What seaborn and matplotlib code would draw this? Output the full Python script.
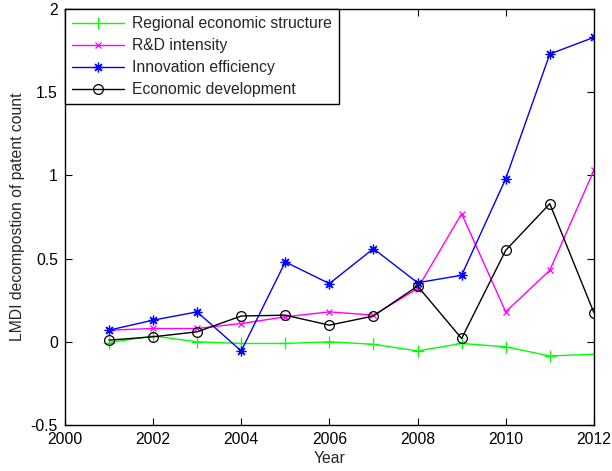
import matplotlib
matplotlib.use("Agg")
import matplotlib.pyplot as plt
import seaborn as sns
import numpy as np

years = [2001, 2002, 2003, 2004, 2005, 2006, 2007, 2008, 2009, 2010, 2011, 2012]
regional_structure = [-0.005, 0.035, 0.0, -0.01, -0.01, 0.0, -0.015, -0.055, -0.01, -0.03, -0.085, -0.075]
rd_intensity = [0.07, 0.08, 0.08, 0.11, 0.15, 0.18, 0.16, 0.32, 0.77, 0.18, 0.43, 1.03]
innovation_eff = [0.07, 0.13, 0.18, -0.055, 0.48, 0.35, 0.56, 0.355, 0.40, 0.98, 1.73, 1.83]
economic_dev = [0.01, 0.03, 0.06, 0.155, 0.16, 0.10, 0.155, 0.335, 0.02, 0.55, 0.83, 0.175]

series_names = ["Regional economic structure", "R&D intensity",
                "Innovation efficiency", "Economic development"]
x_ticks = [2000, 2002, 2004, 2006, 2008, 2010, 2012]
y_ticks = [-0.5, 0, 0.5, 1, 1.5, 2]
y_tick_labels = ["-0.5", "0", "0.5", "1", "1.5", "2"]

sns.set_style("ticks")
plt.rcParams["font.family"] = ["Liberation Sans", "DejaVu Sans"]
plt.rcParams["xtick.direction"] = "in"
plt.rcParams["ytick.direction"] = "in"

fig = plt.figure(figsize=(6.12, 4.71), dpi=100)
ax = fig.add_axes([0.106, 0.0977, 0.8644, 0.883])

styles = [
    dict(color="#00ff00", marker="+", ms=8, mfc="none"),
    dict(color="#ff00ff", marker="x", ms=5, mfc="none"),
    dict(color="#0000ff", marker=(8, 2, 0), ms=7, mfc="none"),
    dict(color="black", marker="o", ms=7, mfc="none"),
]
values = [regional_structure, rd_intensity, innovation_eff, economic_dev]

for name, vals, st in zip(series_names, values, styles):
    sns.lineplot(x=years, y=vals, ax=ax, label=name, color=st["color"],
                 marker=st["marker"], markersize=st["ms"],
                 markerfacecolor=st["mfc"], markeredgecolor=st["color"],
                 markeredgewidth=0.9, linewidth=1.0)

ax.set_xlim(2000, 2012)
ax.set_ylim(-0.5, 2)
ax.set_xticks(x_ticks)
ax.set_xticklabels([str(t) for t in x_ticks])
ax.set_yticks(y_ticks)
ax.set_yticklabels(y_tick_labels)
ax.tick_params(axis="both", which="both", top=True, right=True,
               labelsize=11.3, length=5, width=0.8, colors="black", pad=5)
for sp in ax.spines.values():
    sp.set_visible(True)
    sp.set_linewidth(1.0)
    sp.set_color("black")

ax.set_xlabel("Year", fontsize=11.3, labelpad=3)
ax.set_ylabel("LMDI decompostion of patent count", fontsize=11.3, labelpad=4)

leg = ax.legend(loc="upper left", fontsize=11.3, frameon=True, fancybox=False,
                borderaxespad=0, handlelength=3.3, handletextpad=0.5,
                labelspacing=0.45, borderpad=0.45)
leg.get_frame().set_edgecolor("black")
leg.get_frame().set_linewidth(1.0)
leg.get_frame().set_alpha(1)

fig.savefig("out.png", dpi=100)
